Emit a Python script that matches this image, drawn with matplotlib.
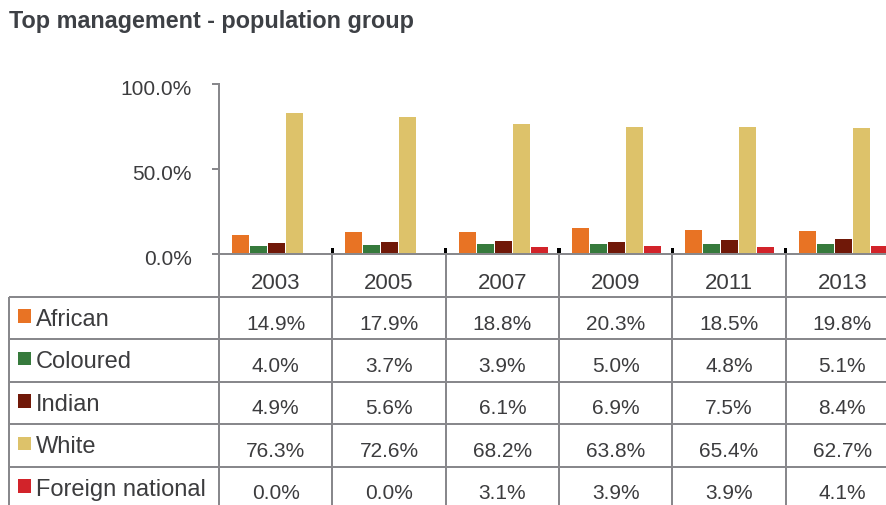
"""
Top management - population group: clustered bars with a data table underneath.
"""

import numpy as np
import matplotlib
matplotlib.use("Agg")
import matplotlib.pyplot as plt
from matplotlib.patches import Rectangle
from matplotlib.transforms import blended_transform_factory, ScaledTranslation

plt.rcParams["font.family"] = ["Liberation Sans", "DejaVu Sans"]

TITLE = "Top management - population group"
years = ["2003", "2005", "2007", "2009", "2011", "2013"]
groups = ["African", "Coloured", "Indian", "White", "Foreign national"]
colors = ["#e87324", "#367a3c", "#701808", "#ddc26a", "#d2232a"]

# values printed in the data table
african = [14.9, 17.9, 18.8, 20.3, 18.5, 19.8]
coloured = [4.0, 3.7, 3.9, 5.0, 4.8, 5.1]
indian = [4.9, 5.6, 6.1, 6.9, 7.5, 8.4]
white = [76.3, 72.6, 68.2, 63.8, 65.4, 62.7]
foreign = [0.0, 0.0, 3.1, 3.9, 3.9, 4.1]

# bar heights as they are drawn in the source (they don't follow the table)
african_bar = [11.0, 12.8, 12.8, 15.2, 14.0, 13.4]
coloured_bar = [4.5, 5.1, 5.7, 5.7, 5.7, 5.7]
indian_bar = [6.3, 6.9, 7.5, 6.9, 8.1, 8.7]
white_bar = [83.1, 80.7, 76.6, 74.8, 74.8, 74.2]
foreign_bar = [0.4, 0.4, 3.9, 4.5, 3.9, 4.5]
other_bar = [3.0, 3.0, 3.0, 3.0, 3.0, 3.0]   # tiny black series at the group edge

W, H = 886, 506
GRID = "#88888c"
TEXT = "#3c3c3e"
LW = 1.44   # 2 px


def main():
    fig = plt.figure(figsize=(W / 100, H / 100), dpi=100)

    # overlay in pixel units (y down) for title and table
    tab = fig.add_axes([0, 0, 1, 1])
    tab.set_xlim(0, W)
    tab.set_ylim(H, 0)
    tab.axis("off")

    # chart area: category width ~113 px, plot runs past the right edge
    ax = fig.add_axes([219 / W, 1 - 254.5 / H, (899 - 219) / W, (254.5 - 85) / H])
    ax.set_facecolor("none")

    x = np.arange(len(years))
    series = [african_bar, coloured_bar, indian_bar, white_bar, foreign_bar]
    for k, (vals, c) in enumerate(zip(series, colors)):
        ax.bar(x + 0.115 + k * 0.159, vals, width=0.150, align="edge",
               color=c, linewidth=0)
    ax.bar(x + 1.0, other_bar, width=0.03, color="black", linewidth=0)

    ax.set_xlim(0, len(years))
    ax.set_ylim(0, 100)
    ax.set_xticks([])
    ax.set_yticks([0, 50, 100])
    ax.set_yticklabels([f"{v:.1f}%" for v in [0, 50, 100]])
    ax.tick_params(axis="y", length=5, width=LW, color=GRID, pad=14.4,
                   labelsize=15, labelcolor=TEXT)
    for lbl in ax.get_yticklabels():
        lbl.set_transform(lbl.get_transform()
                          + ScaledTranslation(0, -0.03, fig.dpi_scale_trans))
    for side in ["top", "right"]:
        ax.spines[side].set_visible(False)
    for side in ["left", "bottom"]:
        ax.spines[side].set_color(GRID)
        ax.spines[side].set_linewidth(LW)

    # title
    tab.text(9.3, 28.3, TITLE, fontsize=16.8, fontweight="bold",
             color="#3d4045", va="baseline", ha="left")

    # data table ----------------------------------------------------------
    row_top = 297.5
    row_h = 42.5
    mixed = blended_transform_factory(ax.transData, tab.transData)

    for r in range(len(groups)):
        y = row_top + r * row_h
        tab.plot([9, W], [y, y], color=GRID, lw=LW, solid_capstyle="butt")
    tab.plot([9, 9], [row_top, H], color=GRID, lw=LW, solid_capstyle="butt")
    for i in range(len(years) + 1):
        tab.plot([i, i], [254.5, H], color=GRID, lw=LW, transform=mixed,
                 solid_capstyle="butt", clip_on=False)

    for i, yr in enumerate(years):
        tab.text(i + 0.5, 289.3, yr, transform=mixed, ha="center",
                 va="baseline", fontsize=16, color=TEXT)

    table = [african, coloured, indian, white, foreign]
    for r, (name, c, vals) in enumerate(zip(groups, colors, table)):
        top = row_top + r * row_h
        tab.add_patch(Rectangle((18.3, top + 12.7), 13, 13.5, color=c, lw=0))
        tab.text(36, top + 28.4, name, fontsize=17, color=TEXT,
                 va="baseline", ha="left")
        for i, v in enumerate(vals):
            tab.text(i + 0.5, top + 32, f"{v:.1f}%", transform=mixed,
                     ha="center", va="baseline", fontsize=15, color=TEXT)

    fig.savefig("out.png", dpi=100)


if __name__ == "__main__":
    main()
